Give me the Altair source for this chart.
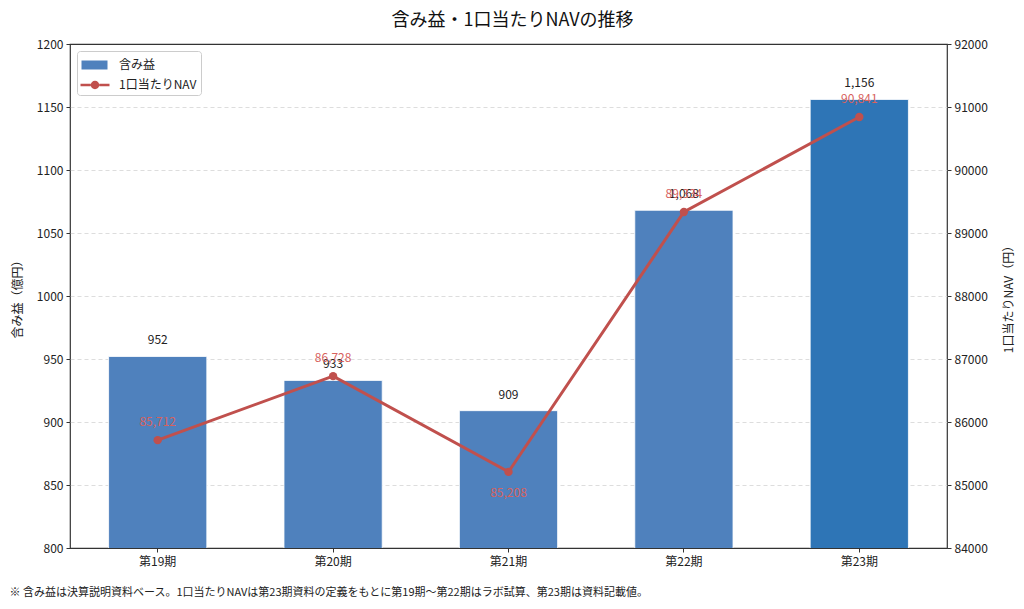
import altair as alt
import pandas as pd

periods = ["第19期", "第20期", "第21期", "第22期", "第23期"]
gains = [952, 933, 909, 1068, 1156]
nav = [85712, 86728, 85208, 89334, 90841]
series = ["含み益", "1口当たりNAV"]

FONT = "Noto Sans CJK JP"
BLUE = "#4F81BD"
BLUE_LAST = "#2E75B6"
RED = "#C0504D"
RED_TXT = "#D7625E"
NOTE = "※ 含み益は決算説明資料ベース。1口当たりNAVは第23期資料の定義をもとに第19期～第22期はラボ試算、第23期は資料記載値。"

df = pd.DataFrame({"period": periods, "gain": gains, "nav": nav})
legend_df = pd.DataFrame({"series": series})

x_enc = alt.X(
    "period:N",
    sort=periods,
    scale=alt.Scale(paddingInner=0.44, paddingOuter=0.22),
    axis=alt.Axis(
        title=NOTE, titleAnchor="start", titleAlign="left", titleX=-61, titleY=44,
        titleBaseline="middle", titleFontSize=11, titleFontWeight="normal", titleColor="#222",
        labelAngle=0, labelFontSize=12, labelPadding=4, tickSize=4, labelColor="#222",
        domain=False, tickColor="#333",
    ),
)

gain_scale = alt.Scale(domain=[800, 1200], nice=False, zero=False)
nav_scale = alt.Scale(domain=[84000, 92000], nice=False, zero=False)

base = alt.Chart(df)

bars = base.mark_bar(stroke="white", strokeWidth=0.8, clip=True).encode(
    x=x_enc,
    y=alt.Y(
        "gain:Q", scale=gain_scale,
        axis=alt.Axis(
            title="含み益（億円）", titleFontSize=12, titleFontWeight="normal", titleColor="#222",
            titlePadding=12, values=list(range(800, 1201, 50)), format="d",
            labelFontSize=12, labelColor="#222", tickSize=4, tickColor="#333", labelPadding=3,
            grid=True, gridDash=[4, 3], gridColor="#dddddd", domain=False,
            gridOpacity={"condition": {"test": "datum.value <= 800 || datum.value >= 1200", "value": 0}, "value": 1},
        ),
    ),
    color=alt.condition(
        alt.datum.period == "第23期", alt.value(BLUE_LAST), alt.value(BLUE)
    ),
)

bar_text = base.mark_text(baseline="bottom", dy=-9, fontSize=12, color="#222").encode(
    x=alt.X("period:N", sort=periods),
    y=alt.Y("gain:Q", scale=gain_scale),
    text=alt.Text("gain:Q", format=","),
)

left = alt.layer(bars, bar_text)

line = base.mark_line(color=RED, strokeWidth=3).encode(
    x=alt.X("period:N", sort=periods),
    y=alt.Y(
        "nav:Q", scale=nav_scale,
        axis=alt.Axis(
            orient="right", title="1口当たりNAV（円）", titleAngle=270, titleFontSize=12,
            titleFontWeight="normal", titleColor="#222",
            titleX=61, titleY=252, titleAlign="center", titleBaseline="middle",
            values=list(range(84000, 92001, 1000)), format="d",
            labelFontSize=12, labelColor="#222", tickSize=4, tickColor="#333", labelPadding=3,
            grid=False, domain=False,
        ),
    ),
)

points = base.mark_point(filled=True, color=RED, size=70, opacity=1).encode(
    x=alt.X("period:N", sort=periods),
    y=alt.Y("nav:Q", scale=nav_scale),
)

nav_text_above = base.transform_filter(alt.datum.period != "第21期").mark_text(
    baseline="middle", dy=-18, fontSize=12, color=RED_TXT
).encode(
    x=alt.X("period:N", sort=periods),
    y=alt.Y("nav:Q", scale=nav_scale),
    text=alt.Text("nav:Q", format=","),
)

nav_text_below = base.transform_filter(alt.datum.period == "第21期").mark_text(
    baseline="middle", dy=21, fontSize=12, color=RED_TXT
).encode(
    x=alt.X("period:N", sort=periods),
    y=alt.Y("nav:Q", scale=nav_scale),
    text=alt.Text("nav:Q", format=","),
)

rect_path = "M-0.95,-0.45H1.65V0.45H-0.95Z"
line_path = (
    "M-1.05,-0.13H-0.02V0.13H-1.05Z"
    "M0.82,-0.13H1.85V0.13H0.82Z"
    "M-0.02,0A0.42,0.42 0 1,1 0.82,0A0.42,0.42 0 1,1 -0.02,0Z"
)

leg = alt.Legend(
    title=None, orient="top-left", offset=7, padding=4, strokeColor="#cccccc",
    fillColor="white", cornerRadius=3, symbolSize=400, symbolStrokeWidth=0,
    labelFontSize=12, labelColor="#222", rowPadding=4, labelOffset=18,
)

legend_layer = alt.Chart(legend_df).transform_filter("false").mark_point(
    filled=True, opacity=1
).encode(
    color=alt.Color("series:N", scale=alt.Scale(domain=series, range=[BLUE, RED]), legend=leg),
    shape=alt.Shape("series:N", scale=alt.Scale(domain=series, range=[rect_path, line_path]), legend=leg),
)

right = alt.layer(line, points, nav_text_above, nav_text_below, legend_layer)

chart = (
    alt.layer(left, right)
    .resolve_scale(y="independent")
    .properties(
        width=877,
        height=504,
        padding={"left": 62, "top": 36, "right": 69, "bottom": 53},
        autosize="none",
        title=alt.TitleParams(
            "含み益・1口当たりNAVの推移", fontSize=18, fontWeight="normal",
            font=FONT, offset=8, anchor="middle", dx=4, color="#111",
        ),
    )
    .configure(font=FONT)
    .configure_view(stroke="#333", strokeWidth=1.2)
)

chart.save("out.html", embed_options={"renderer": "svg", "actions": False})
